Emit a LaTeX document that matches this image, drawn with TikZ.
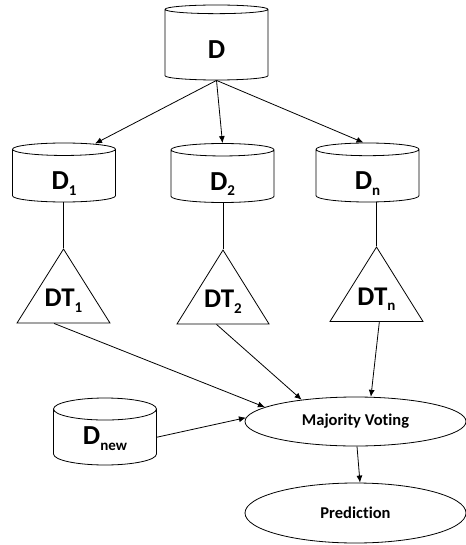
\documentclass[tikz,border=0pt]{standalone}
\usepackage{fontspec}
\setmainfont{Carlito}[Ligatures=NoCommon]
\usetikzlibrary{shapes.geometric,arrows.meta,calc,positioning}

\newcommand{\sidx}[1]{\raisebox{-0.2em}{\fontsize{15}{15}\selectfont #1}}

\tikzset{
  db/.style={draw, cylinder, shape border rotate=90, shape aspect=0.5,
    minimum width=103pt, inner sep=0pt, text height=28pt, text depth=0pt,
    font=\fontsize{27.5}{30}\selectfont\bfseries},
  dtree/.style={draw, isosceles triangle, shape border rotate=90,
    isosceles triangle stretches, inner sep=0pt, text depth=11pt,
    font=\fontsize{27}{30}\selectfont\bfseries},
  oval/.style={draw, ellipse, minimum width=221pt, inner sep=0pt,
    font=\fontsize{16.5}{18}\selectfont\bfseries},
  arr/.style={-{Latex[length=7pt,width=6pt]}}
}

\begin{document}
\begin{tikzpicture}[x=1pt,y=-1pt,line width=0.8pt]
\useasboundingbox (0,0) rectangle (465,545);

\node[db, minimum height=75pt, anchor=shape center] (D) at (216.5,42.5) {D};

\node[db, minimum height=59pt, anchor=shape center] (D1) at (64,172.5) {D\sidx{1}};
\node[db, minimum height=59pt, anchor=shape center] (D2) at (222.5,173) {D\sidx{2}};
\node[db, minimum height=59pt, anchor=shape center] (Dn) at (367.5,172.5) {D\sidx{n}};

\node[dtree, minimum width=93pt, minimum height=74pt, anchor=apex] (T1) at (63.5,248) {DT\sidx{1}};
\node[dtree, minimum width=92pt, minimum height=68pt, anchor=apex] (T2) at (223,249) {DT\sidx{2}};
\node[dtree, minimum width=93pt, minimum height=67pt, anchor=apex] (Tn) at (376.5,246) {DT\sidx{n}};

\node[db, minimum height=67pt, text height=20pt, text depth=5pt, anchor=shape center] (Dnew) at (105,431.5) {D\sidx{new}};

\node[oval, minimum height=49pt] (MV) at (355.5,421.5) {Majority Voting};
\node[oval, minimum height=60pt] (Pred) at (355.5,513) {Prediction};

% split of D
\draw[arr] (D.bottom) -- ([xshift=31pt,yshift=-1pt]D1.top);
\draw[arr] (D.bottom) -- (D2.top);
\draw[arr] (D.bottom) -- ([xshift=-4pt]Dn.top);

% trees
\draw (T1.apex) -- (T1.apex |- D1.bottom);
\draw (T2.apex) -- (T2.apex |- D2.bottom);
\draw (Tn.apex) -- (Tn.apex |- Dn.bottom);

% voting
\draw[arr] ($(T1.left corner)!0.4!(T1.right corner)$) -- (MV.171);
\draw[arr] ($(T2.left corner)!0.43!(T2.right corner)$) -- (MV.158);
\draw[arr] ($(Tn.left corner)!0.53!(Tn.right corner)$) -- (MV.58);
\draw[arr] (Dnew.east) -- (MV.178);
\draw[arr] ([xshift=1.5pt]MV.south) -- ([xshift=4.5pt]Pred.north);

\end{tikzpicture}
\end{document}
